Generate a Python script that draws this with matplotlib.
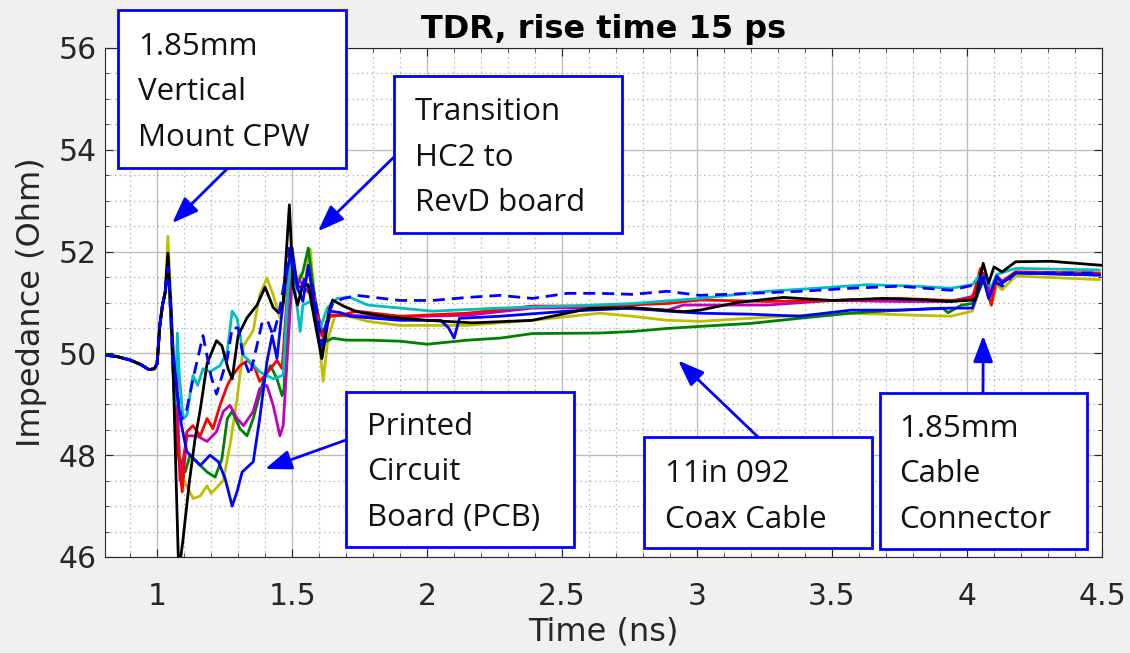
import matplotlib
matplotlib.use("Agg")
import matplotlib.pyplot as plt
from matplotlib.patches import Rectangle
from matplotlib.ticker import MultipleLocator

# shared launch section (all traces overlap here)
launch = [(0.80, 49.97), (0.85, 49.94), (0.90, 49.87), (0.94, 49.78), (0.97, 49.68),
          (0.99, 49.70), (1.00, 49.80), (1.01, 50.55), (1.02, 50.95), (1.03, 51.2)]

black = [(1.04, 51.97), (1.05, 51.0), (1.06, 49.6), (1.07, 47.6), (1.08, 45.7), (1.095, 46.3),
         (1.12, 47.5), (1.14, 48.3), (1.16, 48.9), (1.185, 49.8), (1.22, 50.25), (1.24, 50.15),
         (1.263, 49.7), (1.278, 49.5), (1.30, 50.35), (1.333, 50.7), (1.37, 50.95), (1.40, 51.3),
         (1.43, 50.9), (1.45, 50.8), (1.467, 51.0), (1.49, 52.92), (1.504, 51.3), (1.52, 50.95),
         (1.54, 51.35), (1.56, 51.35), (1.585, 50.6), (1.61, 49.9), (1.635, 50.8), (1.65, 51.05),
         (1.69, 50.93), (1.74, 50.82), (1.85, 50.72), (2.0, 50.65), (2.17, 50.6), (2.39, 50.65),
         (2.6, 50.88), (2.76, 50.9), (2.95, 50.82), (3.01, 50.85), (3.15, 51.0), (3.32, 51.1),
         (3.5, 51.04), (3.69, 51.08), (3.85, 51.05), (3.94, 51.02), (4.03, 51.05), (4.06, 51.77),
         (4.08, 51.38), (4.10, 51.7), (4.13, 51.6), (4.18, 51.8), (4.31, 51.81), (4.50, 51.73)]

yellow = [(1.04, 52.3), (1.05, 51.2), (1.06, 49.8), (1.07, 48.9), (1.085, 48.0), (1.10, 47.5),
          (1.133, 47.15), (1.16, 47.2), (1.185, 47.4), (1.20, 47.25), (1.245, 47.5), (1.27, 48.2),
          (1.296, 49.1), (1.32, 50.15), (1.356, 50.45), (1.38, 51.15), (1.407, 51.48), (1.43, 51.15),
          (1.455, 50.7), (1.47, 51.0), (1.49, 51.9), (1.51, 51.35), (1.53, 51.55), (1.548, 51.42),
          (1.567, 52.05), (1.58, 51.3), (1.596, 50.5), (1.615, 49.45), (1.633, 50.3), (1.66, 50.75),
          (1.715, 50.72), (1.78, 50.63), (1.9, 50.55), (2.15, 50.55), (2.39, 50.65), (2.64, 50.79),
          (2.76, 50.73), (2.89, 50.65), (3.01, 50.63), (3.32, 50.73), (3.57, 50.79), (3.81, 50.75),
          (3.94, 50.73), (4.02, 50.83), (4.06, 51.45), (4.09, 50.95), (4.11, 51.35), (4.13, 51.25),
          (4.18, 51.52), (4.49, 51.45)]

blue = [(1.04, 51.7), (1.05, 51.0), (1.06, 50.0), (1.074, 49.2), (1.09, 48.6), (1.11, 48.07),
        (1.16, 47.8), (1.196, 48.0), (1.227, 47.87), (1.252, 47.54), (1.278, 47.0), (1.296, 47.28),
        (1.315, 47.67), (1.356, 47.87), (1.38, 48.72), (1.407, 49.84), (1.426, 50.35), (1.444, 49.9),
        (1.46, 50.69), (1.48, 51.6), (1.50, 52.07), (1.52, 51.28), (1.54, 51.02), (1.56, 51.73),
        (1.58, 51.02), (1.61, 49.9), (1.64, 50.83), (1.68, 50.8), (1.715, 50.73), (1.9, 50.65),
        (2.05, 50.65), (2.08, 50.5), (2.10, 50.3), (2.12, 50.69), (2.27, 50.73), (2.52, 50.83),
        (2.76, 50.89), (2.89, 50.83), (3.01, 50.79), (3.2, 50.77), (3.38, 50.73), (3.57, 50.85),
        (3.75, 50.85), (3.94, 50.89), (4.02, 50.89), (4.06, 51.48), (4.08, 51.08), (4.11, 51.52),
        (4.13, 51.38), (4.18, 51.58), (4.49, 51.54)]

blue_dash = [(1.04, 51.7), (1.05, 51.0), (1.06, 49.9), (1.074, 49.25), (1.09, 48.7), (1.11, 48.9),
             (1.133, 49.5), (1.17, 50.35), (1.20, 49.55), (1.22, 49.2), (1.26, 49.9), (1.278, 50.5),
             (1.30, 50.5), (1.32, 49.9), (1.344, 49.57), (1.37, 50.16), (1.39, 50.63), (1.41, 50.63),
             (1.43, 50.35), (1.45, 50.75), (1.474, 51.48), (1.49, 52.07), (1.51, 51.48), (1.53, 51.22),
             (1.56, 51.67), (1.585, 51.08), (1.61, 50.16), (1.63, 50.69), (1.65, 50.98), (1.69, 51.08),
             (1.74, 51.14), (1.9, 51.04), (2.02, 51.04), (2.15, 51.1), (2.27, 51.14), (2.39, 51.08),
             (2.52, 51.18), (2.64, 51.18), (2.76, 51.16), (2.89, 51.22), (3.01, 51.14), (3.2, 51.18),
             (3.38, 51.22), (3.57, 51.28), (3.75, 51.32), (3.94, 51.24), (4.03, 51.35), (4.06, 51.5),
             (4.10, 51.42), (4.13, 51.32), (4.18, 51.58), (4.49, 51.58)]

red = [(1.04, 51.9), (1.05, 50.8), (1.06, 49.5), (1.075, 48.2), (1.093, 47.28), (1.11, 48.46),
       (1.133, 48.58), (1.16, 48.38), (1.185, 48.72), (1.207, 48.52), (1.233, 48.98), (1.26, 49.37),
       (1.28, 49.57), (1.307, 49.76), (1.337, 49.86), (1.363, 49.7), (1.38, 49.45), (1.42, 49.7),
       (1.444, 49.86), (1.463, 49.7), (1.48, 51.0), (1.495, 51.9), (1.52, 51.3), (1.556, 51.35),
       (1.59, 50.89), (1.615, 50.3), (1.64, 50.73), (1.68, 50.75), (1.74, 50.83), (1.9, 50.73),
       (2.15, 50.79), (2.39, 50.93), (2.64, 50.93), (2.89, 50.98), (3.01, 51.05), (3.26, 51.02),
       (3.5, 51.04), (3.75, 51.08), (3.94, 51.04), (4.02, 51.08), (4.05, 51.67), (4.09, 50.95),
       (4.11, 51.48), (4.13, 51.4), (4.18, 51.6), (4.49, 51.58)]

magenta = [(1.04, 51.8), (1.05, 50.8), (1.06, 49.8), (1.07, 49.0), (1.074, 49.6), (1.08, 48.2),
           (1.085, 47.5), (1.11, 48.38), (1.148, 48.38), (1.185, 48.27), (1.22, 48.46), (1.245, 48.86),
           (1.27, 48.98), (1.296, 48.72), (1.32, 48.58), (1.356, 48.86), (1.38, 49.31), (1.407, 49.37),
           (1.43, 48.98), (1.455, 48.38), (1.467, 48.58), (1.485, 50.16), (1.50, 51.5), (1.53, 51.42),
           (1.556, 51.22), (1.58, 51.14), (1.61, 50.35), (1.64, 50.75), (1.69, 50.75), (1.9, 50.72),
           (2.15, 50.75), (2.39, 50.89), (2.64, 50.9), (2.89, 50.85), (2.95, 50.95), (3.26, 50.95),
           (3.5, 51.04), (3.75, 51.02), (3.94, 51.02), (4.02, 51.12), (4.06, 51.58), (4.09, 51.14),
           (4.11, 51.52), (4.13, 51.42), (4.18, 51.6), (4.49, 51.54)]

green = [(1.04, 51.8), (1.05, 50.8), (1.06, 49.6), (1.07, 48.6), (1.078, 48.0), (1.104, 47.67),
         (1.122, 48.0), (1.16, 47.8), (1.185, 47.67), (1.215, 47.57), (1.24, 47.93), (1.26, 48.72),
         (1.278, 48.86), (1.307, 48.52), (1.333, 48.38), (1.356, 48.72), (1.393, 49.45), (1.42, 49.76),
         (1.444, 49.5), (1.463, 49.17), (1.47, 49.3), (1.485, 51.0), (1.50, 51.93), (1.52, 51.35),
         (1.54, 51.6), (1.56, 52.07), (1.58, 51.22), (1.604, 50.55), (1.63, 50.24), (1.65, 50.3),
         (1.70, 50.26), (1.78, 50.26), (1.9, 50.24), (2.0, 50.18), (2.15, 50.26), (2.27, 50.3),
         (2.39, 50.39), (2.64, 50.4), (2.76, 50.43), (2.89, 50.49), (3.01, 50.53), (3.2, 50.59),
         (3.38, 50.69), (3.57, 50.79), (3.75, 50.85), (3.91, 50.89), (3.93, 50.8), (3.98, 50.95),
         (4.02, 50.98), (4.06, 51.42), (4.09, 51.12), (4.11, 51.48), (4.13, 51.38), (4.18, 51.58),
         (4.49, 51.54)]

cyan = [(1.04, 51.8), (1.05, 50.8), (1.06, 49.6), (1.068, 49.0), (1.075, 50.4), (1.082, 49.6),
        (1.096, 48.72), (1.11, 48.78), (1.133, 49.57), (1.15, 49.37), (1.17, 49.7), (1.196, 49.64),
        (1.233, 49.76), (1.26, 50.04), (1.278, 50.83), (1.296, 50.69), (1.32, 49.96), (1.344, 49.84),
        (1.38, 49.64), (1.43, 49.5), (1.467, 49.57), (1.485, 51.28), (1.50, 51.93), (1.51, 51.28),
        (1.53, 50.43), (1.54, 50.95), (1.567, 51.02), (1.604, 50.49), (1.63, 50.89), (1.667, 51.08),
        (1.715, 51.1), (1.78, 50.95), (2.02, 50.83), (2.27, 50.89), (2.52, 50.93), (2.76, 50.98),
        (3.01, 51.08), (3.26, 51.22), (3.44, 51.28), (3.63, 51.35), (3.81, 51.32), (3.94, 51.28),
        (4.02, 51.35), (4.05, 51.55), (4.09, 51.3), (4.11, 51.55), (4.18, 51.67), (4.49, 51.64)]

# callouts: text lines and arrow targets (time, impedance)
notes = [
    (["1.85mm", "Vertical", "Mount CPW"], (1.056, 52.56)),
    (["Transition", "HC2 to", "RevD board"], (1.596, 52.40)),
    (["Printed", "Circuit", "Board (PCB)"], (1.40, 47.73)),
    (["11in 092", "Coax Cable"], (2.93, 49.86)),
    (["1.85mm", "Cable", "Connector"], (4.06, 50.35)),
]

W, H = 1130, 653
fig = plt.figure(figsize=(W / 100, H / 100), dpi=100, facecolor="#f0f0f0")
ax = fig.add_axes([105 / W, 1 - 557 / H, (1102 - 105) / W, (557 - 48) / H])

traces = [(yellow, "#bfbf00", "-"), (green, "#008000", "-"), (magenta, "#bf00bf", "-"),
          (red, "#ff0000", "-"), (cyan, "#00bfbf", "-"), (blue, "#0000ff", "-"),
          (black, "#000000", "-"), (blue_dash, "#0000ff", "--")]
for data, col, ls in traces:
    pts = launch + data
    t = [p[0] for p in pts]
    z = [p[1] for p in pts]
    ln, = ax.plot(t, z, color=col, lw=2.0, ls=ls)
    if ls == "--":
        ln.set_dashes((4.3, 2.5))

ax.set_xlim(0.807, 4.5)
ax.set_ylim(46, 56)
ax.set_xticks([1, 1.5, 2, 2.5, 3, 3.5, 4, 4.5])
ax.set_xticklabels(["1", "1.5", "2", "2.5", "3", "3.5", "4", "4.5"])
ax.set_yticks([46, 48, 50, 52, 54, 56])
ax.xaxis.set_minor_locator(MultipleLocator(0.1))
ax.yaxis.set_minor_locator(MultipleLocator(0.5))
ax.grid(True, which="major", color="#bdbdbd", lw=1.0)
ax.grid(True, which="minor", color="#b5b5b5", lw=0.9, ls=(0, (1.2, 2.6)))
ax.set_axisbelow(True)
ax.tick_params(which="both", direction="in", top=True, right=True, colors="#262626",
               labelsize=21.5)
ax.tick_params(which="major", length=6, width=0.8)
ax.tick_params(which="minor", length=3, width=0.6)
ax.tick_params(axis="x", pad=18)
ax.tick_params(axis="y", pad=6)
for s in ax.spines.values():
    s.set_color("#262626")
    s.set_linewidth(0.8)

ax.set_xlabel("Time (ns)", fontsize=23, color="#262626", labelpad=4)
ax.set_ylabel("Impedance (Ohm)", fontsize=23, color="#262626", labelpad=8)
ax.set_title("TDR, rise time 15 ps", fontsize=23, fontweight="bold", pad=7)

# boxes in image pixels: left, top, right, bottom, text left, first baseline, arrow tail
boxes = [(118, 10, 346, 168, 138, 55, (228, 168)),
         (394, 76, 622, 233, 415, 120, (394, 157)),
         (346, 392, 574, 547, 367, 435, (346, 440)),
         (644, 437, 872, 548, 665, 482, (758, 437)),
         (880, 393, 1087, 549, 899, 437, (983, 393))]

for (lines, tip), (x0, y0, x1, y1, tx, ty, tail) in zip(notes, boxes):
    ax.annotate("", xy=tip, xycoords="data",
                xytext=(tail[0], H - tail[1]), textcoords="figure pixels",
                arrowprops=dict(arrowstyle="-|>,head_length=0.8,head_width=0.3",
                                color="#0000ff", lw=2, mutation_scale=20,
                                shrinkA=0, shrinkB=0))
    fig.add_artist(Rectangle((x0 / W, 1 - y1 / H), (x1 - x0) / W, (y1 - y0) / H,
                             transform=fig.transFigure, fc="white", ec="#0000ff",
                             lw=2, zorder=5))
    for i, s in enumerate(lines):
        fig.text(tx / W, 1 - (ty + 45.5 * i) / H, s, fontsize=22.5, family="Open Sans",
                 va="baseline", ha="left", color="#111111", zorder=6)

fig.savefig("out.png", dpi=100, facecolor=fig.get_facecolor())
